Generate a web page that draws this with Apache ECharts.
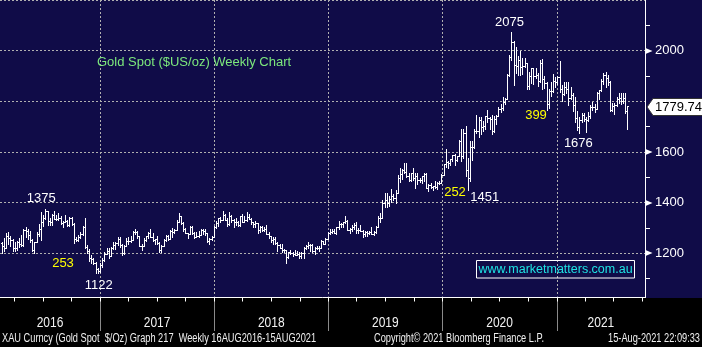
<!DOCTYPE html>
<html>
<head>
<meta charset="utf-8">
<title>Gold Spot Weekly</title>
<script src="https://cdn.jsdelivr.net/npm/echarts@6/dist/echarts.min.js"></script>
<style>
  html, body { margin: 0; padding: 0; background: #000; }
  #chart { width: 702px; height: 347px; }
</style>
</head>
<body>
<div id="chart"></div>
<script>
// ---- Weekly XAU bars (week ending dates, first bar Feb 2016) ----
const firstWeek = '2016-02-21';

const open = [
  // 2016
  1239,1227,1222,1270,1259,1254,1220,1222,1243,1235,1232,1291,1290,1272,1252,1213,1243,1275,1298,1322,
  1340,1366,1328,1323,1351,1335,1336,1341,1321,1325,1328,1310,1338,1316,1257,1252,1266,1275,1304,1225,
  1208,1183,1177,1160,1137,1132,
  // 2017
  1152,1173,1197,1210,1190,1220,1234,1239,1257,1234,1201,1229,1249,1247,1254,1285,1283,1268,1228,1228,
  1254,1267,1279,1266,1254,1256,1242,1212,1228,1254,1269,1258,1289,1284,1291,1325,1347,1320,1297,1280,
  1275,1304,1280,1266,1269,1274,1294,1288,1280,1248,1257,1266,
  // 2018
  1303,1320,1338,1333,1350,1333,1315,1347,1330,1322,1324,1312,1347,1323,1332,1345,1336,1323,1314,1319,
  1291,1302,1293,1298,1278,1270,1252,1256,1241,1231,1223,1214,1212,1184,1206,1201,1197,1194,1199,1191,
  1203,1222,1228,1234,1233,1209,1222,1223,1222,1249,1238,1258,
  // 2019
  1281,1285,1288,1282,1303,1317,1314,1322,1328,1294,1298,1302,1312,1292,1291,1290,1275,1286,1280,1286,
  1277,1284,1305,1341,1341,1399,1409,1400,1415,1426,1419,1440,1497,1513,1527,1520,1507,1488,1516,1499,
  1505,1489,1490,1505,1514,1459,1468,1462,1464,1460,1476,1478,
  // 2020
  1511,1551,1562,1557,1571,1589,1570,1584,1643,1585,1674,1530,1499,1618,1620,1683,1683,1727,1700,1703,
  1743,1734,1730,1683,1730,1743,1771,1775,1799,1810,1902,1975,2035,1944,1940,1964,1934,1941,1950,1862,
  1899,1930,1899,1902,1879,1951,1889,1871,1788,1839,1839,1882,
  // 2021
  1877,1895,1850,1828,1856,1848,1814,1824,1784,1734,1700,1727,1745,1732,1728,1744,1777,1777,1769,1831,
  1844,1881,1905,1891,1877,1764,1781,1787,1808,1812,1802,1814,1763
];

const high = [
  // 2016
  1243,1262,1280,1284,1270,1255,1244,1250,1262,1271,1297,1304,1295,1290,1258,1245,1285,1315,1362,1350,
  1375,1368,1340,1355,1367,1352,1358,1346,1327,1352,1330,1343,1345,1318,1263,1274,1284,1307,1338,1233,
  1218,1192,1183,1165,1142,1162,
  // 2017
  1183,1207,1220,1220,1226,1244,1245,1264,1263,1237,1233,1259,1264,1270,1289,1295,1288,1268,1236,1262,
  1270,1283,1296,1280,1258,1268,1245,1233,1256,1272,1274,1293,1301,1298,1330,1358,1347,1323,1300,1281,
  1306,1306,1283,1284,1289,1297,1296,1298,1280,1260,1270,1306,
  // 2018
  1326,1340,1345,1366,1355,1340,1362,1353,1336,1340,1327,1349,1356,1349,1365,1354,1338,1323,1326,1321,
  1307,1309,1304,1310,1284,1270,1263,1265,1245,1236,1235,1217,1214,1207,1215,1206,1212,1211,1205,1207,
  1226,1233,1243,1238,1237,1226,1230,1229,1251,1250,1262,1283,
  // 2019
  1298,1298,1297,1304,1326,1320,1324,1347,1330,1300,1311,1320,1325,1300,1310,1292,1289,1288,1290,1304,
  1287,1306,1348,1358,1411,1439,1437,1426,1453,1434,1449,1510,1535,1531,1555,1557,1516,1518,1535,1519,
  1517,1499,1505,1518,1516,1475,1478,1466,1485,1480,1485,1514,
  // 2020
  1553,1611,1563,1574,1589,1592,1584,1649,1689,1692,1703,1576,1645,1645,1690,1747,1738,1739,1722,1743,
  1765,1740,1745,1744,1746,1779,1789,1818,1815,1906,1984,2075,2039,2015,1977,2000,1973,1973,1952,1917,
  1933,1933,1932,1911,1965,1966,1900,1875,1848,1875,1906,1896,
  // 2021
  1900,1959,1865,1876,1875,1875,1855,1831,1816,1760,1740,1755,1755,1740,1759,1784,1797,1790,1836,1845,
  1890,1913,1916,1903,1879,1795,1795,1818,1834,1833,1832,1832,1783
];

const low = [
  // 2016
  1200,1208,1220,1238,1228,1208,1208,1212,1225,1230,1230,1265,1258,1245,1208,1200,1243,1267,1251,1306,
  1337,1310,1313,1310,1334,1330,1333,1316,1302,1322,1308,1309,1310,1241,1247,1250,1262,1274,1220,1203,
  1171,1160,1157,1122,1124,1127,
  // 2017
  1146,1171,1196,1180,1188,1219,1216,1233,1224,1194,1196,1227,1238,1246,1252,1278,1261,1227,1214,1228,
  1248,1259,1263,1248,1236,1236,1205,1207,1227,1249,1252,1256,1265,1281,1291,1323,1315,1288,1280,1261,
  1275,1276,1262,1264,1266,1273,1275,1271,1243,1236,1254,1266,
  // 2018
  1301,1308,1323,1330,1331,1307,1310,1322,1303,1310,1307,1307,1322,1322,1328,1334,1315,1302,1305,1282,
  1283,1290,1290,1275,1261,1245,1238,1237,1211,1220,1204,1207,1160,1181,1196,1190,1193,1192,1180,1183,
  1183,1218,1221,1211,1206,1196,1218,1210,1220,1235,1236,1256,
  // 2019
  1276,1280,1280,1276,1296,1302,1302,1320,1292,1281,1290,1298,1281,1282,1289,1266,1268,1267,1276,1276,
  1273,1279,1305,1322,1340,1382,1381,1386,1402,1412,1400,1437,1480,1492,1516,1503,1485,1486,1488,1459,
  1474,1480,1478,1486,1456,1445,1456,1450,1458,1455,1472,1477,
  // 2020
  1510,1541,1536,1547,1563,1548,1563,1584,1563,1576,1505,1451,1484,1568,1614,1674,1660,1672,1683,1689,
  1717,1692,1670,1677,1711,1742,1757,1764,1791,1808,1900,1964,1863,1911,1902,1903,1907,1936,1849,1848,
  1873,1870,1891,1860,1876,1850,1853,1765,1775,1820,1836,1855,
  // 2021
  1870,1836,1803,1825,1831,1785,1810,1761,1717,1687,1676,1719,1722,1678,1721,1733,1764,1756,1768,1808,
  1840,1868,1855,1866,1761,1762,1750,1783,1795,1789,1794,1753,1690
];

const close = [
  // 2016
  1227,1222,1270,1259,1254,1220,1222,1243,1235,1232,1291,1290,1272,1252,1213,1243,1275,1298,1322,1340,
  1366,1328,1323,1351,1335,1336,1341,1321,1325,1328,1310,1338,1316,1257,1252,1266,1275,1304,1225,1208,
  1183,1177,1160,1137,1132,1152,
  // 2017
  1173,1197,1210,1190,1220,1234,1239,1257,1234,1201,1229,1249,1247,1254,1285,1283,1268,1228,1228,1254,
  1267,1279,1266,1254,1256,1242,1212,1228,1254,1269,1258,1289,1284,1291,1325,1347,1320,1297,1280,1275,
  1304,1280,1266,1269,1274,1294,1288,1280,1248,1257,1266,1303,
  // 2018
  1320,1338,1333,1350,1333,1315,1347,1330,1322,1324,1312,1347,1323,1332,1345,1336,1323,1314,1319,1291,
  1302,1293,1298,1278,1270,1252,1256,1241,1231,1223,1214,1212,1184,1206,1201,1197,1194,1199,1191,1203,
  1222,1228,1234,1233,1209,1222,1223,1222,1249,1238,1258,1281,
  // 2019
  1285,1288,1282,1303,1317,1314,1322,1328,1294,1298,1302,1312,1292,1291,1290,1275,1286,1280,1286,1277,
  1284,1305,1341,1341,1399,1409,1400,1415,1426,1419,1440,1497,1513,1527,1520,1507,1488,1516,1499,1505,
  1489,1490,1505,1514,1459,1468,1462,1464,1460,1476,1478,1511,
  // 2020
  1551,1562,1557,1571,1589,1570,1584,1643,1585,1674,1530,1499,1618,1620,1683,1683,1727,1700,1703,1743,
  1734,1730,1683,1730,1743,1771,1775,1799,1810,1902,1975,2035,1944,1940,1964,1934,1941,1950,1862,1899,
  1930,1899,1902,1879,1951,1889,1871,1788,1839,1839,1882,1877,
  // 2021
  1895,1850,1828,1856,1848,1814,1824,1784,1734,1700,1727,1745,1732,1728,1744,1777,1777,1769,1831,1844,
  1881,1905,1891,1877,1764,1781,1787,1808,1812,1802,1814,1763,1779.74
];

// Years shown along the bottom band
const years = [2016, 2017, 2018, 2019, 2020, 2021];

// Price levels that carry a label and an arrow marker on the right axis
const priceMarkers = [1200, 1400, 1600, 2000];

// Swing highs / lows that get their price written next to them (bar index + which end)
const pivots = [
  { bar: 20,  side: 'high' },
  { bar: 43,  side: 'low' },
  { bar: 213, side: 'low' },
  { bar: 233, side: 'high' },
  { bar: 264, side: 'low' }
];

// Counts written in yellow between swings
const countNotes = ['253', '252', '399'];

// ---- derived structures ----
const DAY = 86400000;
const firstTs = Date.parse(firstWeek + 'T00:00:00Z');
const weeks = close.map((_, i) => firstTs + i * 7 * DAY);
const bars = weeks.map((t, i) => [t, open[i], high[i], low[i], close[i]]);
const lastBar = bars[bars.length - 1];

const axisStart = Date.UTC(2016, 1, 16);
const axisEnd = Date.UTC(2021, 9, 10);

const quarterStarts = [];
years.concat([years[years.length - 1] + 1]).forEach(y => {
  [0, 3, 6, 9].forEach(m => {
    const t = Date.UTC(y, m, 1);
    if (t > axisStart && t <= axisEnd) quarterStarts.push(t);
  });
});

const pivotData = pivots.map(p => [weeks[p.bar], p.side === 'high' ? high[p.bar] : low[p.bar]]);

// label offsets (px) for each pivot, in the same order as pivots
const pivotOffsets = [[-4, -10.5], [3, 12.5], [17, 8], [-2, -9.5], [-1, 11]];

const AXIS_Y = 297.5;       // baseline of the time axis
const BAND_TOP = 298;       // black band with the years and the footer
const GRID_COLOR = '#b0b0b0';
const GRID_LINE = { stroke: GRID_COLOR, lineWidth: 1, lineDash: [2, 2] };
const ARIAL = "'Liberation Sans', Arial, sans-serif";
const NARROW_SCALE = 0.77;  // horizontal squeeze for the terminal-style captions

const chart = echarts.init(document.getElementById('chart'), null, { renderer: 'canvas' });

function renderBar(params, api) {
  const t = api.value(0);
  const pO = api.coord([t, api.value(1)]);
  const pH = api.coord([t, api.value(2)]);
  const pL = api.coord([t, api.value(3)]);
  const pC = api.coord([t, api.value(4)]);
  const x = Math.round(pO[0]) + 0.5;
  const yo = Math.round(pO[1]) + 0.5;
  const yc = Math.round(pC[1]) + 0.5;
  const style = { stroke: '#ffffff', lineWidth: 1 };
  return {
    type: 'group',
    silent: true,
    children: [
      { type: 'line', shape: { x1: x, y1: Math.round(pH[1]), x2: x, y2: Math.round(pL[1]) + 1 }, style },
      { type: 'line', shape: { x1: x - 1.5, y1: yo, x2: x, y2: yo }, style },
      { type: 'line', shape: { x1: x, y1: yc, x2: x + 1.5, y2: yc }, style }
    ]
  };
}

function renderYear(params, api) {
  const y = api.value(0);
  const yStart = Date.UTC(y, 0, 1);
  const s = Math.max(yStart, axisStart);
  const e = Math.min(Date.UTC(y + 1, 0, 1), axisEnd);
  const xs = api.coord([s, 1500])[0];
  const xe = api.coord([e, 1500])[0];
  const children = [{
    type: 'text',
    x: (xs + xe) / 2,
    y: 323,
    scaleX: 0.8,
    style: { text: String(y), fill: '#f2f2f2', font: '15px ' + ARIAL, align: 'center', verticalAlign: 'middle' }
  }];
  if (yStart > axisStart) {
    const gx = Math.round(xs) + 0.5;
    children.push({ type: 'line', shape: { x1: gx, y1: 0, x2: gx, y2: AXIS_Y - 1 }, style: GRID_LINE });
    children.push({ type: 'line', shape: { x1: gx, y1: 301, x2: gx, y2: 331 }, style: { stroke: '#8a8a8a', lineWidth: 1 } });
  }
  return { type: 'group', silent: true, children };
}

function renderQuarter(params, api) {
  const x = Math.round(api.coord([api.value(0), 1500])[0]) + 0.5;
  return { type: 'line', silent: true, shape: { x1: x, y1: AXIS_Y, x2: x, y2: AXIS_Y + 4 }, style: { stroke: '#ffffff', lineWidth: 1 } };
}

function renderMarker(params, api) {
  const p = api.coord([axisEnd, api.value(0)]);
  const x = Math.round(p[0]) + 0.5, y = Math.round(p[1]);
  return { type: 'polygon', silent: true, shape: { points: [[x, y - 3], [x + 7, y], [x, y + 3]] }, style: { fill: '#ffffff' } };
}

function renderLast(params, api) {
  const p = api.coord([axisEnd, api.value(1)]);
  const x = p[0] + 2, y = Math.round(p[1]) + 1;
  return {
    type: 'group',
    silent: true,
    children: [
      { type: 'polygon', shape: { points: [[x, y], [x + 6, y - 8.5], [x + 62, y - 8.5], [x + 62, y + 8.5], [x + 6, y + 8.5]] },
        style: { fill: '#ffffff', stroke: '#333333', lineWidth: 1 } },
      { type: 'text', x: x + 8, y: y, style: { text: api.value(1).toFixed(2), fill: '#000000', font: '13px ' + ARIAL, align: 'left', verticalAlign: 'middle' } }
    ]
  };
}

function renderPivot(params, api) {
  const p = api.coord([api.value(0), api.value(1)]);
  const off = pivotOffsets[params.dataIndex];
  return {
    type: 'text', silent: true,
    x: p[0] + off[0], y: p[1] + off[1],
    style: { text: String(api.value(1)), fill: '#ffffff', font: '13px ' + ARIAL, align: 'center', verticalAlign: 'middle' }
  };
}

function caption(text, x, align) {
  return {
    type: 'text', z: 3, silent: true, x: x, y: 339, scaleX: NARROW_SCALE,
    style: { text: text, fill: '#f0f0f0', font: '12px ' + ARIAL, align: align, verticalAlign: 'middle' }
  };
}

function note(text, x, y) {
  return {
    type: 'text', z: 3, silent: true, x: x, y: y,
    style: { text: text, fill: '#ffff00', font: '13px ' + ARIAL, align: 'center', verticalAlign: 'middle' }
  };
}

const option = {
  animation: false,
  backgroundColor: '#100c48',
  grid: { left: 0, top: -8, width: 645, height: 312, containLabel: false },
  xAxis: {
    type: 'time',
    min: axisStart,
    max: axisEnd,
    show: false
  },
  yAxis: {
    type: 'value',
    position: 'right',
    min: 1000,
    max: 2200,
    interval: 200,
    axisLine: { show: true, lineStyle: { color: '#ffffff', width: 1 } },
    axisTick: { show: false },
    minorTick: { show: true, splitNumber: 2, length: 5, lineStyle: { color: '#ffffff', width: 1 } },
    axisLabel: {
      color: '#ffffff',
      fontFamily: "'Liberation Sans', Arial, sans-serif",
      fontSize: 13,
      margin: 10,
      formatter: v => (priceMarkers.indexOf(v) >= 0 ? String(v) : '')
    },
    splitLine: { show: true, lineStyle: { color: GRID_COLOR, width: 1, type: [2, 2] } }
  },
  graphic: [
    { type: 'rect', z: 1, silent: true, shape: { x: 0, y: BAND_TOP, width: 702, height: 347 - BAND_TOP }, style: { fill: '#000000' } },
    { type: 'line', z: 1, silent: true, shape: { x1: 0, y1: AXIS_Y, x2: 645.5, y2: AXIS_Y }, style: { stroke: '#ffffff', lineWidth: 1 } },
    { type: 'text', z: 3, silent: true, x: 97, y: 62,
      style: { text: 'Gold Spot ($US/oz) Weekly Chart', fill: '#7ce87c', font: '13px ' + ARIAL, verticalAlign: 'middle' } },
    note(countNotes[0], 63, 263),
    note(countNotes[1], 455, 192),
    note(countNotes[2], 536, 115),
    { type: 'rect', z: 3, silent: true, shape: { x: 476.5, y: 260.5, width: 158, height: 17.5 }, style: { fill: 'none', stroke: '#ffffff', lineWidth: 1 } },
    { type: 'text', z: 3, silent: true, x: 555.5, y: 269.5,
      style: { text: 'www.marketmatters.com.au', fill: '#1ee4e4', font: '12.5px ' + ARIAL, align: 'center', verticalAlign: 'middle' } },
    caption('XAU Curncy (Gold Spot  $/Oz) Graph 217  Weekly 16AUG2016-15AUG2021', 2, 'left'),
    caption('Copyright\u00a9 2021 Bloomberg Finance L.P.', 459, 'center'),
    caption('15-Aug-2021 22:09:33', 700, 'right')
  ],
  series: [
    {
      name: 'years', type: 'custom', z: 2, clip: false, silent: true,
      renderItem: renderYear,
      data: years.map(y => [y])
    },
    {
      name: 'quarters', type: 'custom', z: 2, clip: false, silent: true,
      renderItem: renderQuarter,
      data: quarterStarts.map(t => [t])
    },
    {
      name: 'XAU', type: 'custom', z: 3, silent: true,
      renderItem: renderBar,
      encode: { x: 0, y: [1, 2, 3, 4] },
      data: bars
    },
    {
      name: 'pivots', type: 'custom', z: 4, clip: false, silent: true,
      renderItem: renderPivot,
      data: pivotData
    },
    {
      name: 'markers', type: 'custom', z: 4, clip: false, silent: true,
      renderItem: renderMarker,
      data: priceMarkers.map(v => [v])
    },
    {
      name: 'last', type: 'custom', z: 6, clip: false, silent: true,
      renderItem: renderLast,
      data: [[lastBar[0], lastBar[4]]]
    }
  ]
};

chart.setOption(option);
</script>
</body>
</html>
